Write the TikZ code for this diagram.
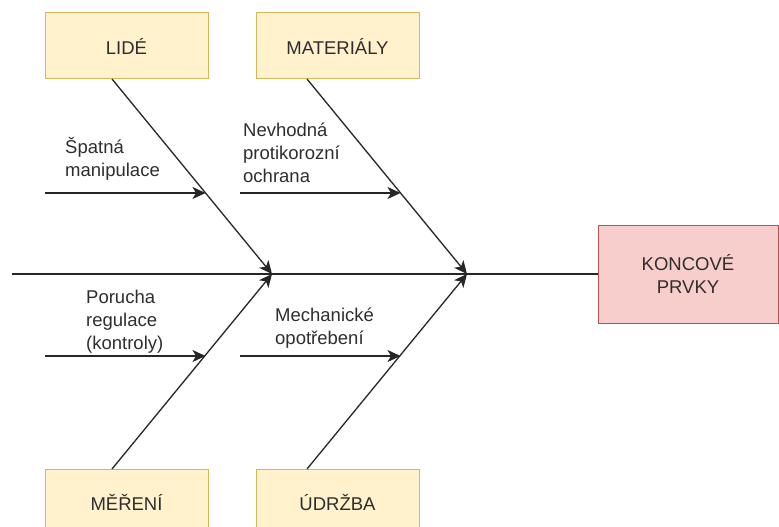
\documentclass[tikz,border=0pt]{standalone}
\usepackage{fontspec}
\setmainfont{Liberation Sans}
\usetikzlibrary{arrows.meta}
\definecolor{catfill}{HTML}{FFF2CC}
\definecolor{catline}{HTML}{D6B656}
\definecolor{effill}{HTML}{F8CECC}
\definecolor{efline}{HTML}{B85450}
\definecolor{ink}{HTML}{2E2E2E}
\begin{document}
\begin{tikzpicture}[x=1pt,y=-1pt,
  every node/.style={font=\fontsize{18.5}{22.8}\selectfont, text=ink},
  catbox/.style={draw=catline, fill=catfill, line width=1pt, minimum width=163pt, minimum height=66pt, inner sep=0pt},
  effbox/.style={draw=efline, fill=effill, line width=1pt, minimum width=180pt, minimum height=98pt, inner sep=0pt, align=center},
  cause/.style={align=left, anchor=west, inner sep=0pt},
  bone/.style={draw=black!85, line width=1.3pt},
  arr/.style={bone, -{Stealth[length=13pt,width=12pt,inset=3.5pt]}}
]
\useasboundingbox (0,0) rectangle (779,527);
\fill[white] (0,0) rectangle (779,527);
\begin{scope}
\clip (0,0) rectangle (779,527);
% category boxes
\node[catbox] (lide) at (126.5,46) {LIDÉ};
\node[catbox] (mat) at (337.5,46) {MATERIÁLY};
\node[catbox] (mer) at (126.5,502) {MĚŘENÍ};
\node[catbox] (udr) at (337.5,502) {ÚDRŽBA};
% effect box
\node[effbox] (eff) at (688,274) {KONCOVÉ\\PRVKY};
\end{scope}
% spine junctions
\coordinate (j1) at (272,274);
\coordinate (j2) at (467,274);
\coordinate (s0) at (12,274);
\draw[bone] (s0) -- (eff.west);
% main bones
\coordinate (lt) at (112,79);
\coordinate (mt) at (307,79);
\coordinate (mb) at (112,469);
\coordinate (ub) at (307,469);
\draw[arr] (lt) -- (j1);
\draw[arr] (mb) -- (j1);
\draw[arr] (mt) -- (j2);
\draw[arr] (ub) -- (j2);
% sub-cause arrows
\coordinate (a1s) at (45,193);  \coordinate (a1e) at (205.5,193);
\coordinate (a2s) at (240,193); \coordinate (a2e) at (400.5,193);
\coordinate (a3s) at (45,356);  \coordinate (a3e) at (205.5,356);
\coordinate (a4s) at (240,356); \coordinate (a4e) at (400.5,356);
\draw[arr] (a1s) -- (a1e);
\draw[arr] (a2s) -- (a2e);
\draw[arr] (a3s) -- (a3e);
\draw[arr] (a4s) -- (a4e);
% cause labels
\node[cause] (t1) at (65,159) {Špatná\\manipulace};
\node[cause] (t2) at (243,153) {Nevhodná\\protikorozní\\ochrana};
\node[cause] (t3) at (86,322) {Porucha\\regulace\\(kontroly)};
\node[cause] (t4) at (275,328) {Mechanické\\opotřebení};
\end{tikzpicture}
\end{document}
